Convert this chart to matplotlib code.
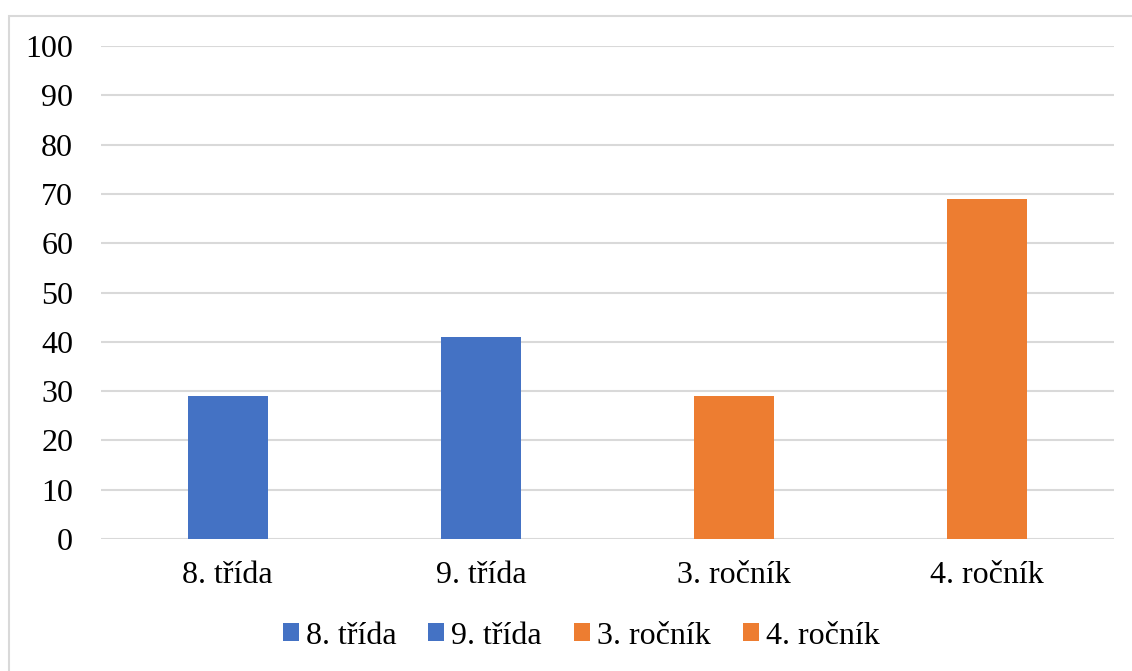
import matplotlib.pyplot as plt
from matplotlib.patches import Rectangle

# data
kategorie = ['8. třída', '9. třída', '3. ročník', '4. ročník']
hodnoty = [29, 41, 29, 69]
barvy = ['#4472C4', '#4472C4', '#ED7D31', '#ED7D31']
yticks = [0, 10, 20, 30, 40, 50, 60, 70, 80, 90, 100]

plt.rcParams['font.family'] = ['Liberation Serif', 'DejaVu Serif']

fig = plt.figure(figsize=(11.32, 6.71), dpi=100)
ax = fig.add_axes([101/1132, 1-539/671, (1114-101)/1132, (539-46)/671])

for i, (k, h, c) in enumerate(zip(kategorie, hodnoty, barvy)):
    ax.bar(i, h, width=0.316, color=c, label=k, zorder=3)

ax.set_xlim(-0.5, 3.5)
ax.set_ylim(0, 100)
ax.set_yticks(yticks)
ax.set_xticks(range(len(kategorie)))
ax.set_xticklabels(kategorie)
ax.grid(axis='y', color='#d9d9d9', linewidth=1.5, zorder=0)
for s in ax.spines.values():
    s.set_visible(False)
ax.tick_params(axis='both', length=0)
ax.tick_params(axis='y', pad=20, labelsize=23)
ax.tick_params(axis='x', pad=16, labelsize=23)

# legenda dole pod grafem
ax.legend(loc='center', bbox_to_anchor=(581/1132, 1-636/671), bbox_transform=fig.transFigure,
          ncol=4, frameon=False, fontsize=23, handlelength=0.5, handleheight=0.5,
          handletextpad=0.22, columnspacing=1.0)

fig.patches.append(Rectangle((8.5/1132, -0.1), 1.0, 1.1 - 15.5/671, transform=fig.transFigure,
                             fill=False, edgecolor='#d9d9d9', linewidth=1.5))

fig.savefig('out.png', dpi=100)
